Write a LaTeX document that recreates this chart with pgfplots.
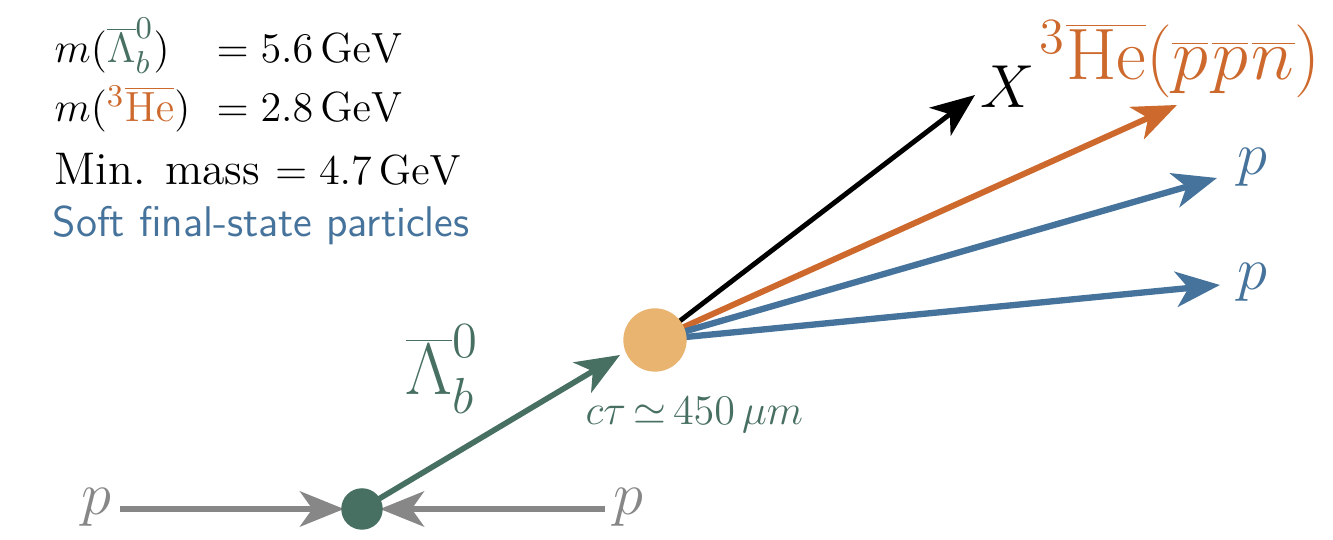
\documentclass[border=0pt]{standalone}
\usepackage{pgfplots}
\pgfplotsset{compat=1.18}
\usetikzlibrary{arrows.meta}
\definecolor{cgreen}{RGB}{72,112,98}
\definecolor{corange}{RGB}{205,105,45}
\definecolor{cblue}{RGB}{70,115,155}
\definecolor{ccircle}{RGB}{232,180,112}
\definecolor{cgray}{RGB}{135,135,135}
\begin{document}
\begin{tikzpicture}
\begin{axis}[x=0.01cm,y=0.01cm,xmin=0,xmax=1333,ymin=0,ymax=540,hide axis,clip=false,
  tip/.style={-{Stealth[length=12.5pt,width=10pt,inset=3.5pt]}}]
\path (axis cs:0,0) rectangle (axis cs:1333,540);
% incoming protons
\addplot[cgray, line width=1.8pt, tip] coordinates {(120,31) (344,31)};
\addplot[cgray, line width=1.8pt, tip] coordinates {(605,31) (380,31)};
% Lambda_b flight
\addplot[cgreen, line width=1.6pt, tip] coordinates {(362,31) (620,185)};
% decay products
\addplot[black, line width=1.4pt, tip] coordinates {(655,200) (975,445)};
\addplot[corange, line width=1.7pt, tip] coordinates {(655,200) (1177,435)};
\addplot[cblue, line width=1.8pt, tip] coordinates {(655,200) (1217,362)};
\addplot[cblue, line width=1.8pt, tip] coordinates {(655,200) (1220,255)};
% vertices
\addplot[only marks, mark=*, mark size=5.7pt, cgreen, mark options={draw=cgreen, fill=cgreen}] coordinates {(362,31)};
\addplot[only marks, mark=*, mark size=8.8pt, ccircle, mark options={draw=ccircle, fill=ccircle}] coordinates {(655,200)};
% labels
\node[anchor=base, text=cgray, font=\fontsize{18}{20}\selectfont] at (axis cs:96,25) {$p$};
\node[anchor=base, text=cgray, font=\fontsize{18}{20}\selectfont] at (axis cs:628,25) {$p$};
\node[anchor=base, text=black, font=\fontsize{19}{21}\selectfont] at (axis cs:1008,432) {$X$};
\node[anchor=base, text=corange, font=\fontsize{20}{22}\selectfont] at (axis cs:1180,460) {${}^{3}\overline{\mathrm{He}}(\overline{p}\mkern1mu\overline{p}\mkern1mu\overline{n})$};
\node[anchor=base, text=cblue, font=\fontsize{18}{20}\selectfont] at (axis cs:1252,365) {$p$};
\node[anchor=base, text=cblue, font=\fontsize{18}{20}\selectfont] at (axis cs:1252,250) {$p$};
\node[anchor=base west, inner sep=0pt, text=cgreen, font=\fontsize{20}{22}\selectfont] at (axis cs:405,145) {$\overline{\Lambda}_b^0$};
\node[anchor=base west, inner sep=0pt, text=cgreen, font=\fontsize{12.2}{14}\selectfont] at (axis cs:585,115) {$c\tau\,{\simeq}\,450\,\mu m$};
% mass box
\node[anchor=base west, inner sep=0pt, font=\fontsize{13}{15}\selectfont] at (axis cs:54,477) {$m(\textcolor{cgreen}{\overline{\Lambda}_b^0})$};
\node[anchor=base west, inner sep=0pt, font=\fontsize{13}{15}\selectfont] at (axis cs:216,477) {$=5.6\,\mathrm{GeV}$};
\node[anchor=base west, inner sep=0pt, font=\fontsize{13}{15}\selectfont] at (axis cs:54,418) {$m(\textcolor{corange}{{}^{3}\overline{\mathrm{He}}})$};
\node[anchor=base west, inner sep=0pt, font=\fontsize{13}{15}\selectfont] at (axis cs:216,418) {$=2.8\,\mathrm{GeV}$};
\node[anchor=base west, inner sep=0pt, font=\fontsize{13}{15}\selectfont] at (axis cs:54,355) {Min. mass $=4.7\,\mathrm{GeV}$};
\node[anchor=base west, inner sep=0pt, text=cblue, font=\sffamily\fontsize{12.2}{15}\selectfont] at (axis cs:52,303) {Soft final-state particles};
\end{axis}
\end{tikzpicture}
\end{document}
